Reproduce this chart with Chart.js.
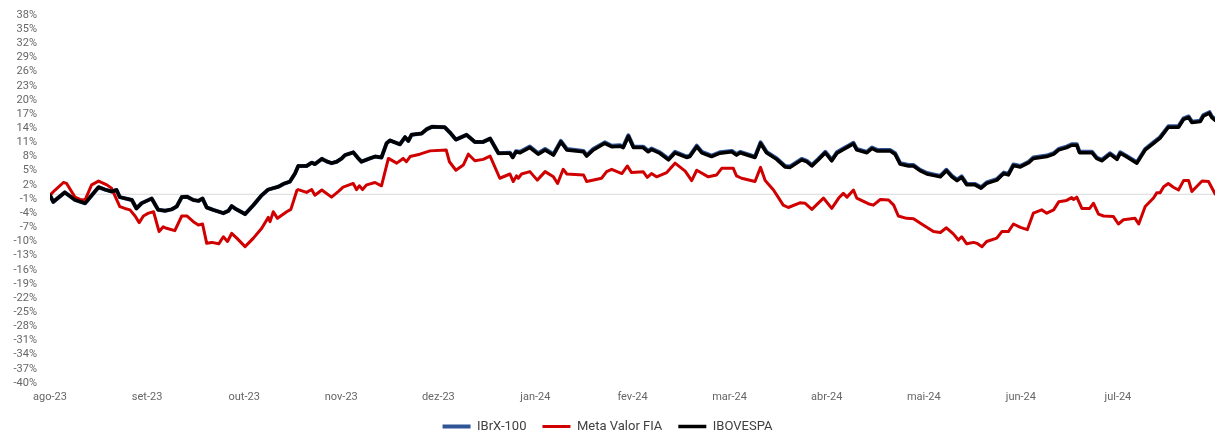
<!DOCTYPE html>
<html>
<head>
<meta charset="utf-8">
<script src="https://cdn.jsdelivr.net/npm/chart.js@4.4.1/dist/chart.umd.min.js"></script>
<style>
  html, body { margin: 0; padding: 0; background: #fff; }
  #wrap { width: 1226px; height: 436px; position: relative; }
</style>
</head>
<body>
<div id="wrap"><canvas id="perfChart"></canvas></div>
<script>
// month labels, one every 21 trading days
const monthLabels = ['ago-23', 'set-23', 'out-23', 'nov-23', 'dez-23', 'jan-24',
  'fev-24', 'mar-24', 'abr-24', 'mai-24', 'jun-24', 'jul-24'];
const daysPerLabel = 21;
const lastDay = 252;

// [trading day, accumulated return %]
const ibovespa = [
  [0,-0.2],[0.7,-1.6],[3.2,0.4],[5.4,-1.2],[7.6,-1.9],[8.7,-0.6],[10.5,1.5],[11.9,1.0],[13.3,0.6],[14.4,0.9],
  [15.1,-0.6],[17.7,-1.2],[18.7,-3.0],[19.8,-1.9],[22,-0.9],[23.4,-3.3],[24.9,-3.5],[26.3,-3.2],[27.4,-2.6],[28.5,-0.6],
  [29.6,-0.5],[31,-1.2],[32.1,-1.4],[33,-0.9],[33.9,-2.8],[35.3,-3.3],[37.5,-4.0],[38.6,-3.5],[39.3,-2.5],[40,-3.0],
  [42.2,-4.2],[44,-2.3],[45.8,-0.2],[47.2,1.0],[48.3,1.3],[49.4,1.6],[50.5,2.2],[51.9,2.7],[53,4.4],[53.7,6.0],
  [55.5,6.0],[56.6,6.7],[57.3,6.4],[58.8,7.5],[59.8,7.0],[60.9,6.6],[62,6.9],[63.1,7.6],[63.8,8.3],[65.6,8.9],
  [66.7,7.6],[67.4,6.9],[69.2,7.6],[70.3,8.0],[71.7,7.8],[72.8,10.8],[73.5,11.4],[74.6,11.0],[75.7,10.6],[76.8,12.1],
  [77.5,11.3],[78.2,12.6],[80.4,12.9],[81.5,13.8],[82.6,14.3],[85.4,14.2],[86.5,13.1],[87.8,11.6],[90.1,12.6],[91.9,11.1],
  [93.7,11.1],[95.2,11.8],[97,8.7],[99.5,8.7],[100.1,7.8],[100.8,9.0],[101.7,8.8],[103.8,9.9],[105.6,8.5],[107.1,9.4],
  [108.9,8.3],[110.5,11.1],[111.8,9.4],[115.4,9.0],[116.1,8.1],[117.5,9.4],[120,10.8],[121.5,10.1],[123.3,10.2],[124,9.9],
  [125.1,12.3],[126.2,9.9],[128.3,9.9],[129.4,9.0],[130.1,9.5],[131.9,8.7],[133.8,7.3],[135.2,8.8],[137.7,7.8],[138.4,8.0],
  [139.9,10.1],[141,8.8],[143.1,8.0],[144.9,8.7],[147.5,9.0],[148.5,8.3],[149.3,8.8],[152.5,7.8],[153.7,10.8],[155,8.8],
  [157.2,7.4],[159,5.8],[160.1,5.7],[162.6,7.3],[163.7,6.9],[164.8,6.0],[166.2,7.3],[167.7,8.8],[169.1,7.1],[170.2,8.7],
  [171.6,9.5],[172.7,10.1],[173.8,10.7],[174.5,9.4],[176.7,8.8],[177.8,9.7],[178.9,9.2],[181.7,9.2],[182.8,8.5],[183.9,6.4],
  [185.7,6.0],[186.8,6.0],[188.2,5.0],[189.7,4.3],[191.1,4.0],[192.6,3.7],[193.9,5.0],[195.1,3.7],[196.2,2.9],[197.2,3.6],
  [198.3,2.0],[200.1,2.0],[201.4,1.3],[202.6,2.3],[204.8,3.0],[206.3,4.4],[207.3,4.1],[208.4,6.1],[209.9,5.8],[211.7,6.7],
  [212.7,7.6],[215.6,8.0],[217.1,8.5],[218.2,9.4],[219.9,9.9],[221,10.4],[222.1,10.4],[222.7,8.8],[225.4,8.8],[226.4,7.6],
  [227.5,7.1],[229.3,8.5],[230.8,7.4],[231.5,8.7],[232.6,8.1],[235.1,6.6],[236.9,9.4],[238.7,10.8],[240.1,11.9],[241.9,14.2],
  [244.1,14.2],[245.2,15.9],[246.3,16.3],[247,15.2],[248.8,15.4],[249.5,16.6],[250.8,17.2],[251.3,16.3],[252,15.7]
];

const ibrx100 = [
  [0,-0.2],[0.7,-1.6],[3.2,0.4],[5.4,-1.2],[7.6,-1.9],[8.7,-0.6],[10.5,1.5],[11.9,1.0],[13.3,0.6],[14.4,0.9],
  [15.1,-0.6],[17.7,-1.2],[18.7,-3.0],[19.8,-1.9],[22,-0.9],[23.4,-3.3],[24.9,-3.5],[26.3,-3.2],[27.4,-2.6],[28.5,-0.6],
  [29.6,-0.5],[31,-1.2],[32.1,-1.4],[33,-0.9],[33.9,-2.8],[35.3,-3.3],[37.5,-4.0],[38.6,-3.5],[39.3,-2.5],[40,-3.0],
  [42.2,-4.2],[44,-2.3],[45.8,-0.2],[47.2,1.0],[48.3,1.3],[49.4,1.6],[50.5,2.2],[51.9,2.7],[53,4.4],[53.7,6.0],
  [55.5,6.0],[56.6,6.7],[57.3,6.4],[58.8,7.5],[59.8,7.0],[60.9,6.6],[62,6.9],[63.1,7.6],[63.8,8.3],[65.6,8.9],
  [66.7,7.6],[67.4,6.9],[69.2,7.6],[70.3,8.0],[71.7,7.8],[72.8,10.8],[73.5,11.4],[74.6,11.0],[75.7,10.6],[76.8,12.1],
  [77.5,11.3],[78.2,12.6],[80.4,12.9],[81.5,13.8],[82.6,14.3],[85.4,14.2],[86.5,13.1],[87.8,11.6],[90.1,12.6],[91.9,11.1],
  [93.7,11.1],[95.2,11.8],[97,8.7],[99.5,8.8],[100.1,7.9],[100.8,9.1],[101.7,9.0],[103.8,10.1],[105.6,8.7],[107.1,9.6],
  [108.9,8.5],[110.5,11.3],[111.8,9.6],[115.4,9.2],[116.1,8.3],[117.5,9.6],[120,11.0],[121.5,10.3],[123.3,10.4],[124,10.1],
  [125.1,12.5],[126.2,10.1],[128.3,10.1],[129.4,9.2],[130.1,9.7],[131.9,8.9],[133.8,7.5],[135.2,9.0],[137.7,8.0],[138.4,8.2],
  [139.9,10.3],[141,9.0],[143.1,8.2],[144.9,8.9],[147.5,9.2],[148.5,8.5],[149.3,9.0],[152.5,8.0],[153.7,11.0],[155,9.0],
  [157.2,7.6],[159,6.0],[160.1,5.9],[162.6,7.5],[163.7,7.1],[164.8,6.2],[166.2,7.5],[167.7,9.0],[169.1,7.3],[170.2,8.9],
  [171.6,9.7],[172.7,10.3],[173.8,10.9],[174.5,9.6],[176.7,9.0],[177.8,9.9],[178.9,9.4],[181.7,9.4],[182.8,8.7],[183.9,6.6],
  [185.7,6.2],[186.8,6.2],[188.2,5.2],[189.7,4.5],[191.1,4.2],[192.6,3.9],[193.9,5.2],[195.1,3.9],[196.2,3.1],[197.2,3.8],
  [198.3,2.2],[200.1,2.2],[201.4,1.5],[202.6,2.5],[204.8,3.2],[206.3,4.6],[207.3,4.3],[208.4,6.3],[209.9,6.0],[211.7,6.9],
  [212.7,7.8],[215.6,8.2],[217.1,8.7],[218.2,9.6],[219.9,10.1],[221,10.6],[222.1,10.6],[222.7,9.0],[225.4,9.0],[226.4,7.8],
  [227.5,7.3],[229.3,8.7],[230.8,7.6],[231.5,8.9],[232.6,8.3],[235.1,6.8],[236.9,9.6],[238.7,11.0],[240.1,12.1],[241.9,14.4],
  [244.1,14.4],[245.2,16.1],[246.3,16.5],[247,15.4],[248.8,15.6],[249.5,16.8],[250.8,17.4],[251.3,16.5],[252,15.9]
];

const metaValor = [
  [0,-0.2],[1.1,0.9],[2.9,2.5],[3.6,2.3],[5.4,-0.6],[6.5,-1.1],[7.6,-1.2],[9,2.0],[10.5,2.8],[12.3,2.0],
  [13.3,1.3],[15.1,-2.6],[16.2,-3.0],[17.3,-3.3],[18.4,-4.6],[19.3,-6.0],[20.2,-4.6],[21.3,-4.0],[22.4,-3.7],[23.6,-7.9],
  [24.5,-6.9],[25.2,-7.2],[27,-7.7],[28.5,-4.6],[29.6,-4.6],[31,-5.8],[32.1,-6.5],[33,-6.3],[33.9,-10.4],[35,-10.2],
  [36.5,-10.5],[37.5,-9.0],[38.4,-10.0],[39.3,-8.3],[40.4,-9.3],[42.2,-11.1],[44,-9.3],[45.8,-7.2],[47.2,-4.9],[47.6,-5.8],
  [48.3,-3.7],[49.2,-5.1],[51.2,-3.7],[52.1,-3.2],[53.4,0.8],[53.7,1.0],[55.5,0.4],[56.6,1.0],[57.3,-0.2],[58.8,0.9],
  [60.9,-0.6],[62.4,0.6],[63.4,1.5],[65.6,2.3],[66.3,1.0],[66.9,1.8],[67.6,1.0],[68.5,2.0],[70.3,2.5],[71.7,1.8],
  [73.2,7.6],[75,6.6],[76.4,7.6],[77.1,6.9],[77.9,8.0],[80,8.5],[82.2,9.2],[85.7,9.4],[86.4,6.9],[87.8,5.1],
  [89.4,6.2],[90.5,8.5],[91.9,7.1],[93.7,7.4],[95.2,8.1],[97.3,3.4],[99.5,4.3],[100.2,2.7],[100.9,3.9],[101.3,3.4],
  [102,4.3],[103.8,4.8],[105.4,3.0],[107.1,4.8],[108.9,3.7],[109.8,2.3],[111,5.3],[111.8,4.3],[115.4,4.1],[116.1,2.7],
  [119.3,3.4],[120.4,4.8],[121.5,5.3],[123.7,4.4],[124.9,6.0],[125.8,4.6],[128.3,4.8],[129.2,3.6],[130.1,4.4],[131.2,3.7],
  [133.4,4.6],[135.2,6.6],[137.4,4.9],[138.8,2.9],[139.9,5.1],[142.4,3.7],[144.2,4.1],[145.3,5.5],[147.8,5.5],[148.5,3.9],
  [149.6,3.4],[152.5,2.7],[153.7,5.7],[154.7,2.9],[156.5,0.9],[157.5,-0.6],[158.6,-2.3],[159.7,-2.8],[162.2,-1.8],[163.3,-1.9],
  [164.8,-3.2],[167.3,-0.8],[169.1,-3.0],[170.6,-0.8],[171.6,0.2],[172.4,-0.6],[173.8,0.9],[174.5,-0.8],[177,-2.0],[178.1,-2.3],
  [179.6,-1.1],[181.4,-1.2],[182.5,-2.3],[183.5,-4.6],[185.3,-5.1],[186.8,-5.2],[188.2,-6.1],[191.1,-7.9],[192.6,-8.1],[193.9,-7.1],
  [195.4,-8.4],[196.5,-9.7],[197.2,-9.0],[198.3,-10.5],[199.8,-10.2],[200.5,-10.4],[201.6,-11.1],[202.6,-10.0],[204.8,-9.3],[205.9,-7.9],
  [207.3,-7.9],[208.4,-6.3],[209.9,-7.0],[211.4,-7.5],[212.7,-4.0],[214.5,-3.3],[215.6,-4.0],[217.1,-3.3],[218.2,-1.6],[219.9,-1.3],
  [221,-0.7],[221.4,-1.1],[222.1,-0.6],[223.2,-3.0],[224.9,-3.0],[225.7,-1.9],[226.8,-4.2],[227.9,-4.6],[230,-4.7],[231.1,-6.3],
  [232.2,-5.4],[234.7,-5.1],[235.5,-6.3],[236.9,-2.6],[238.7,-0.8],[239.4,0.3],[240.1,0.3],[240.9,1.6],[241.9,2.3],[243,1.5],
  [244.1,0.9],[245.2,2.9],[246.3,2.9],[247,0.6],[249.2,2.8],[250.6,2.7],[252,0.1]
];

const zeroLine = [[0, 0], [lastDay, 0]];

const toPoints = arr => arr.map(p => ({ x: p[0], y: p[1] }));

const tickFont = { family: 'Roboto, "DejaVu Sans", sans-serif', size: 11 };

const ctx = document.getElementById('perfChart').getContext('2d');
new Chart(ctx, {
  type: 'line',
  data: {
    datasets: [
      {
        label: 'IBrX-100',
        data: toPoints(ibrx100),
        borderColor: '#2f5597',
        backgroundColor: '#2f5597',
        borderWidth: 4,
        order: 2,
      },
      {
        label: 'Meta Valor FIA',
        data: toPoints(metaValor),
        borderColor: '#d00000',
        backgroundColor: '#d00000',
        borderWidth: 3,
        order: 1,
      },
      {
        label: 'IBOVESPA',
        data: toPoints(ibovespa),
        borderColor: '#000000',
        backgroundColor: '#000000',
        borderWidth: 3.5,
        order: 0,
      },
      {
        label: 'zero',
        data: toPoints(zeroLine),
        borderColor: '#d9d9d9',
        borderWidth: 1,
        order: 5,
      },
    ],
  },
  options: {
    responsive: true,
    maintainAspectRatio: false,
    animation: false,
    layout: { padding: { top: 15, right: 11, left: 0, bottom: -7 } },
    elements: {
      point: { radius: 0, hoverRadius: 0 },
      line: { tension: 0, borderJoinStyle: 'round', borderCapStyle: 'round' },
    },
    plugins: {
      tooltip: { enabled: false },
      legend: {
        position: 'bottom',
        labels: {
          filter: item => item.text !== 'zero',
          sort: (a, b) => a.datasetIndex - b.datasetIndex,
          usePointStyle: true,
          pointStyle: 'line',
          pointStyleWidth: 28,
          padding: 16,
          color: '#404040',
          font: { family: 'Roboto, "DejaVu Sans", sans-serif', size: 13 },
        },
      },
    },
    scales: {
      x: {
        type: 'linear',
        min: 0,
        max: lastDay,
        grid: { display: false, drawTicks: false },
        border: { display: false },
        afterFit: s => { s.height = 21; },
        ticks: {
          stepSize: daysPerLabel,
          autoSkip: false,
          maxRotation: 0,
          padding: 8,
          color: '#666666',
          font: tickFont,
          callback: v => monthLabels[Math.round(v / daysPerLabel)] || '',
        },
      },
      y: {
        min: -40,
        max: 38,
        grid: { display: false, drawTicks: false },
        border: { display: false },
        afterFit: s => { s.width = 50; s.paddingTop = 6; s.paddingBottom = 6; },
        ticks: {
          stepSize: 3,
          autoSkip: false,
          padding: 13,
          color: '#666666',
          font: tickFont,
          callback: v => v + '%',
        },
      },
    },
  },
});
</script>
</body>
</html>
